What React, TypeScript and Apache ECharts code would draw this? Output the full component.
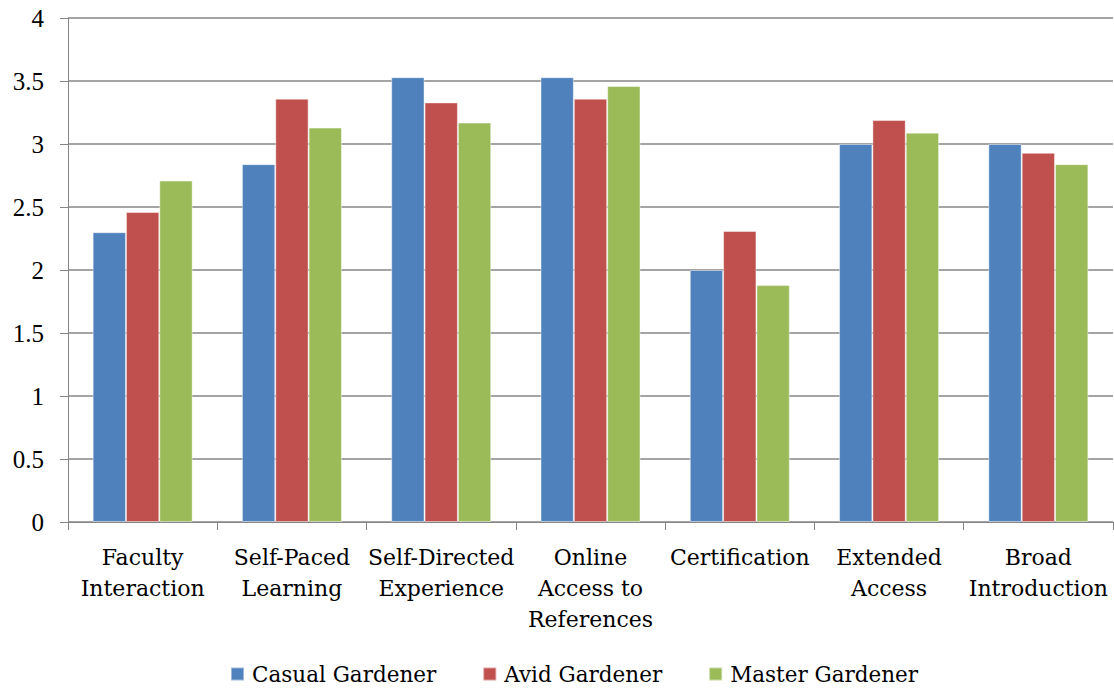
import React, { useEffect, useRef } from "react";
import * as echarts from "echarts";

const categories = [
  "Faculty\nInteraction",
  "Self-Paced\nLearning",
  "Self-Directed\nExperience",
  "Online\nAccess to\nReferences",
  "Certification",
  "Extended\nAccess",
  "Broad\nIntroduction",
];
const casual = [2.3, 2.84, 3.53, 3.53, 2.0, 3.0, 3.0];
const avid = [2.46, 3.36, 3.33, 3.36, 2.31, 3.19, 2.93];
const master = [2.71, 3.13, 3.17, 3.46, 1.88, 3.09, 2.84];
const seriesNames = ["Casual Gardener", "Avid Gardener", "Master Gardener"];
const colors = ["#4F81BD", "#C0504D", "#9BBB59"];

const FONT = "DejaVu Serif";
const NUMFONT = "Liberation Serif";

export default function App() {
  const ref = useRef<HTMLDivElement>(null);
  useEffect(() => {
    const chart = echarts.init(ref.current!, null, { renderer: "svg" });
    const data = [casual, avid, master];
    chart.setOption({
      animation: false,
      backgroundColor: "#ffffff",
      textStyle: { fontFamily: FONT },
      grid: { left: 68, right: 1, top: 18, bottom: 166, containLabel: false },
      legend: {
        top: 663,
        left: 230,
        padding: 0,
        itemWidth: 13,
        itemHeight: 13,
        itemGap: 46,
        icon: "rect",
        textStyle: { fontFamily: FONT, fontSize: 21.5, color: "#000", padding: [0, 0, 0, 3] },
        data: seriesNames,
      },
      xAxis: {
        type: "category",
        data: categories,
        axisLine: { lineStyle: { color: "#868686", width: 1 } },
        axisTick: { show: true, length: 8, lineStyle: { color: "#868686" } },
        axisLabel: {
          interval: 0,
          fontFamily: FONT,
          fontSize: 22,
          color: "#000",
          lineHeight: 31,
          margin: 20,
          align: "center",
        },
      },
      yAxis: {
        type: "value",
        min: 0,
        max: 4,
        interval: 0.5,
        axisLine: { show: true, lineStyle: { color: "#868686", width: 1 } },
        axisTick: { show: true, length: 8, lineStyle: { color: "#868686" } },
        splitLine: { show: true, lineStyle: { color: "#868686", width: 1.5 } },
        axisLabel: {
          fontFamily: NUMFONT,
          fontSize: 25,
          color: "#000",
          margin: 24,
        },
      },
      series: seriesNames.map((name, i) => ({
        name,
        type: "bar",
        data: data[i],
        barGap: "0%",
        barCategoryGap: "33%",
        itemStyle: {
          color: colors[i],
          borderColor: "rgba(255,255,255,0.45)",
          borderWidth: 1,
        },
      })),
    });
    return () => chart.dispose();
  }, []);
  return (
    <div
      ref={ref}
      style={{ position: "fixed", left: 0, top: 0, width: 1114, height: 688 }}
    />
  );
}
